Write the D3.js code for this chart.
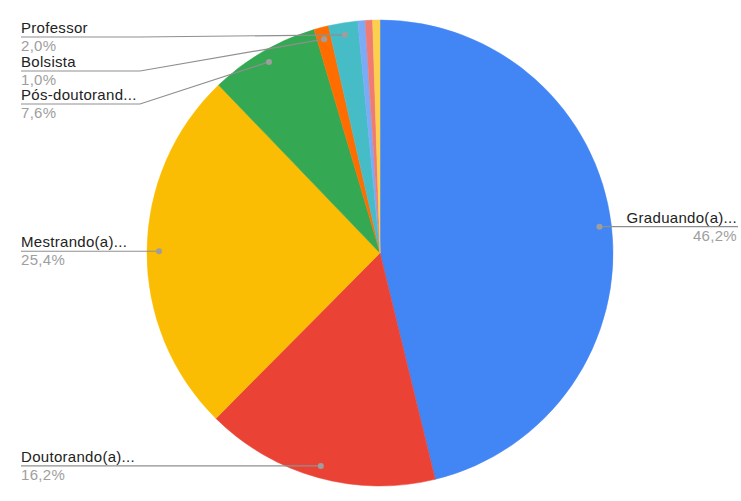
<!DOCTYPE html>
<html><head><meta charset="utf-8">
<script src="https://cdn.jsdelivr.net/npm/d3@7/dist/d3.min.js"></script>
<style>body{margin:0;background:#fff}svg{display:block}</style>
</head><body>
<svg id="c" width="741" height="501"></svg>
<script>
const categories = ["Graduando(a)...", "Doutorando(a)...", "Mestrando(a)...", "Pós-doutorand...", "Bolsista", "Professor", "Outro 1", "Outro 2", "Outro 3"];
const counts = [91, 32, 50, 15, 2, 4, 1, 1, 1];
const percentLabels = ["46,2%", "16,2%", "25,4%", "7,6%", "1,0%", "2,0%", "", "", ""];
const colors = ["#4285F4", "#EA4335", "#FBBC04", "#34A853", "#FF6D01", "#46BDC6", "#7BAAF7", "#F07B72", "#FCD04F"];
const labelLayout = [
  {side: "right"}, {side: "left"}, {side: "left"},
  {side: "left", lineY: 104}, {side: "left", lineY: 71}, {side: "left", lineY: 37},
  null, null, null
];

const svg = d3.select("#c");
const cx = 380, cy = 253, R = 233, rDot = 221;
const font = "Arial, 'Liberation Sans', sans-serif";

const pie = d3.pie().sort(null).value(d => d)(counts);
const arc = d3.arc().innerRadius(0).outerRadius(R);
const dotArc = d3.arc().innerRadius(rDot).outerRadius(rDot);

const g = svg.append("g").attr("transform", `translate(${cx},${cy})`);
g.selectAll("path").data(pie).join("path")
  .attr("d", arc).attr("fill", (d, i) => colors[i])
  .attr("stroke", (d, i) => colors[i]).attr("stroke-width", 0.5);

const lab = svg.append("g");
pie.forEach((d, i) => {
  const L = labelLayout[i];
  if (!L) return;
  const [dx, dy] = dotArc.centroid(d);
  const px = cx + dx, py = cy + dy;
  const lineY = L.lineY != null ? L.lineY : py;
  let pts;
  if (L.side === "left") {
    pts = L.lineY != null ? [[21, lineY], [140, lineY], [px, py]] : [[21, lineY], [px, py]];
  } else {
    pts = [[px, py], [738, lineY]];
  }
  lab.append("path").attr("d", d3.line()(pts)).attr("fill", "none")
    .attr("stroke", "#8f8f8f").attr("stroke-width", 1.2);
  lab.append("circle").attr("cx", px).attr("cy", py).attr("r", 3).attr("fill", "#9e9e9e");
  const tx = L.side === "left" ? 21 : 737;
  const anchor = L.side === "left" ? "start" : "end";
  lab.append("text").attr("x", tx).attr("y", lineY - 4).attr("text-anchor", anchor)
    .attr("font-family", font).attr("font-size", 15).attr("letter-spacing", 0.3)
    .attr("fill", "#222222").text(categories[i]);
  lab.append("text").attr("x", tx).attr("y", lineY + 14).attr("text-anchor", anchor)
    .attr("font-family", font).attr("font-size", 15).attr("letter-spacing", 0.3)
    .attr("fill", "#9e9e9e").text(percentLabels[i]);
});
</script>
</body></html>
